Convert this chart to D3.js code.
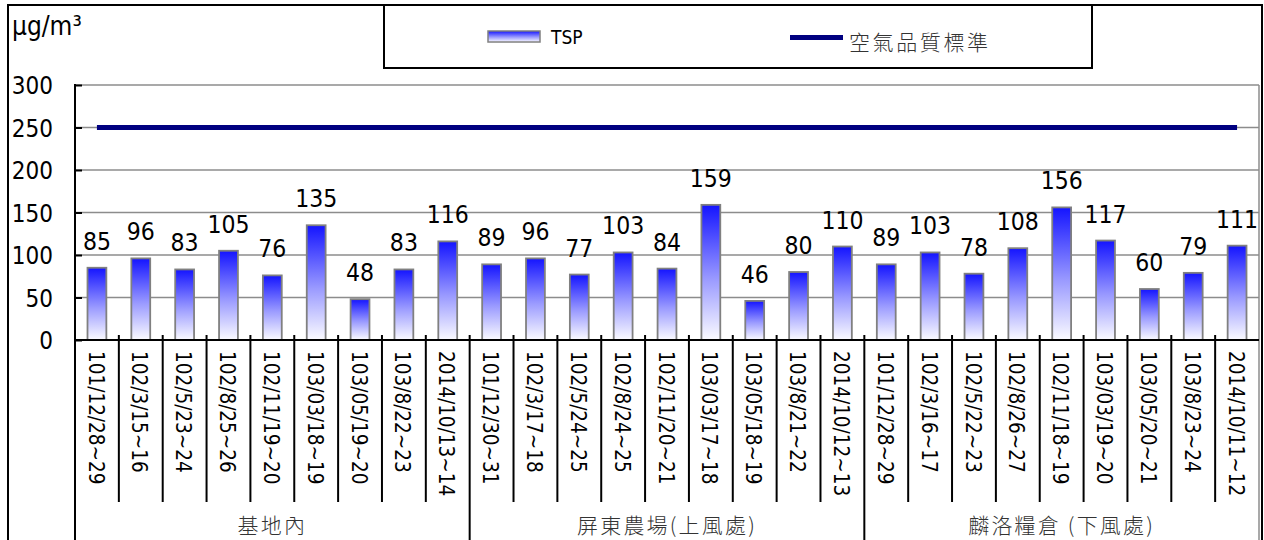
<!DOCTYPE html>
<html>
<head>
<meta charset="utf-8">
<script src="https://cdn.jsdelivr.net/npm/d3@7"></script>
<style>
  html, body { margin: 0; padding: 0; background: #fff; }
  svg { display: block; }
</style>
</head>
<body>
<svg id="chart" width="1264" height="540"></svg>
<script>
// ---- data ----
const groups = ["基地內", "屏東農場(上風處)", "麟洛糧倉 (下風處)"];
const dates1 = ["101/12/28~29", "102/3/15~16", "102/5/23~24", "102/8/25~26", "102/11/19~20", "103/03/18~19", "103/05/19~20", "103/8/22~23", "2014/10/13~14"];
const dates2 = ["101/12/30~31", "102/3/17~18", "102/5/24~25", "102/8/24~25", "102/11/20~21", "103/03/17~18", "103/05/18~19", "103/8/21~22", "2014/10/12~13"];
const dates3 = ["101/12/28~29", "102/3/16~17", "102/5/22~23", "102/8/26~27", "102/11/18~19", "103/03/19~20", "103/05/20~21", "103/8/23~24", "2014/10/11~12"];
const tsp1 = [85, 96, 83, 105, 76, 135, 48, 83, 116];
const tsp2 = [89, 96, 77, 103, 84, 159, 46, 80, 110];
const tsp3 = [89, 103, 78, 108, 156, 117, 60, 79, 111];
const standardValue = 250;
const yTicks = [0, 50, 100, 150, 200, 250, 300];
const unitLabel = "μg/m³";
const seriesNames = ["TSP", "空氣品質標準"];

// ---- build rows ----
const dateSets = [dates1, dates2, dates3];
const valueSets = [tsp1, tsp2, tsp3];
const rows = [];
dateSets.forEach((ds, g) => ds.forEach((d, i) => rows.push({ key: g + "|" + i, group: g, date: d, value: valueSets[g][i] })));

const svg = d3.select("#chart");
const numFont = "'DejaVu Sans Condensed', 'DejaVu Sans', sans-serif";
const cjkFont = "'Noto Sans CJK TC', 'Noto Sans CJK SC', sans-serif";

const L = 75, R = 1259, T = 85, B = 340;
const x = d3.scaleBand().domain(rows.map(r => r.key)).range([L, R]).padding(0);
const y = d3.scaleLinear().domain([0, 300]).range([B, T]);
const barW = x.bandwidth() * 0.43;

// gradient
const defs = svg.append("defs");
const grad = defs.append("linearGradient").attr("id", "barGrad").attr("x1", 0).attr("y1", 0).attr("x2", 0).attr("y2", 1);
grad.append("stop").attr("offset", "0%").attr("stop-color", "#1414ff");
grad.append("stop").attr("offset", "55%").attr("stop-color", "#9a9aff");
grad.append("stop").attr("offset", "100%").attr("stop-color", "#fbfbff");

// outer frame
svg.append("rect").attr("x", 8).attr("y", 5).attr("width", 1254).attr("height", 560)
  .attr("fill", "#fff").attr("stroke", "#000").attr("stroke-width", 2);

// legend box
svg.append("rect").attr("x", 384).attr("y", 5).attr("width", 708).attr("height", 63)
  .attr("fill", "none").attr("stroke", "#000").attr("stroke-width", 2);
svg.append("rect").attr("x", 488).attr("y", 31).attr("width", 52).attr("height", 11)
  .attr("fill", "url(#barGrad)").attr("stroke", "#808080").attr("stroke-width", 1.5);
svg.append("text").attr("x", 551).attr("y", 44).text(seriesNames[0])
  .attr("font-family", numFont).attr("font-size", 19).attr("fill", "#000");
svg.append("line").attr("x1", 790).attr("x2", 843).attr("y1", 37.5).attr("y2", 37.5)
  .attr("stroke", "#000080").attr("stroke-width", 5);
svg.append("text").attr("x", 849).attr("y", 50).text(seriesNames[1])
  .attr("font-family", cjkFont).attr("font-size", 21).attr("font-weight", 300)
  .attr("letter-spacing", 2.6).attr("fill", "#333");

// unit
svg.append("text").attr("x", 12).attr("y", 35).text(unitLabel)
  .attr("font-family", numFont).attr("font-size", 26).attr("fill", "#000");

// gridlines
svg.append("g").selectAll("line").data(yTicks.filter(t => t > 0)).join("line")
  .attr("x1", L).attr("x2", R).attr("y1", d => y(d)).attr("y2", d => y(d))
  .attr("stroke", "#8c8c8c").attr("stroke-width", 1.5);
// plot right border
svg.append("line").attr("x1", R).attr("x2", R).attr("y1", T).attr("y2", 560)
  .attr("stroke", "#8c8c8c").attr("stroke-width", 1.5);

// y axis
const yAxis = d3.axisRight(y).tickValues(yTicks).tickSize(7).tickFormat("");
const yg = svg.append("g").attr("transform", `translate(${L},0)`).call(yAxis);
yg.select(".domain").remove();
yg.selectAll(".tick line").attr("stroke", "#000").attr("stroke-width", 2);
svg.append("line").attr("x1", L).attr("x2", L).attr("y1", T - 1).attr("y2", 560)
  .attr("stroke", "#000").attr("stroke-width", 2);
svg.append("g").selectAll("text").data(yTicks).join("text")
  .attr("x", 53).attr("y", d => y(d) + 9).attr("text-anchor", "end").text(d => d)
  .attr("font-family", numFont).attr("font-size", 24).attr("fill", "#000");

// bars
svg.append("g").selectAll("rect").data(rows).join("rect")
  .attr("x", d => x(d.key) + (x.bandwidth() - barW) / 2)
  .attr("y", d => y(d.value))
  .attr("width", barW)
  .attr("height", d => y(0) - y(d.value))
  .attr("fill", "url(#barGrad)")
  .attr("stroke", "#808080").attr("stroke-width", 1.8);

// value labels
svg.append("g").selectAll("text").data(rows).join("text")
  .attr("x", d => x(d.key) + x.bandwidth() / 2)
  .attr("y", d => y(d.value) - 18)
  .attr("text-anchor", "middle").text(d => d.value)
  .attr("font-family", numFont).attr("font-size", 24.5).attr("fill", "#000");

// standard line
const first = rows[0].key, last = rows[rows.length - 1].key;
svg.append("line")
  .attr("x1", x(first) + x.bandwidth() / 2).attr("x2", x(last) + x.bandwidth() / 2)
  .attr("y1", y(standardValue)).attr("y2", y(standardValue))
  .attr("stroke", "#000080").attr("stroke-width", 5);

// x axis line
svg.append("line").attr("x1", L).attr("x2", R).attr("y1", B).attr("y2", B)
  .attr("stroke", "#000").attr("stroke-width", 2);

// category boundary ticks
const boundaries = rows.map((r, i) => i).filter(i => i > 0);
svg.append("g").selectAll("line").data(boundaries).join("line")
  .attr("x1", i => x(rows[i].key)).attr("x2", i => x(rows[i].key))
  .attr("y1", B - 5)
  .attr("y2", i => (i % 9 === 0 ? 560 : 502))
  .attr("stroke", "#000").attr("stroke-width", 2);

// category labels
svg.append("g").selectAll("text").data(rows).join("text")
  .attr("transform", d => `translate(${x(d.key) + x.bandwidth() / 2 - 1},351) rotate(90)`)
  .attr("dy", "0.36em")
  .text(d => d.date)
  .attr("font-family", numFont).attr("font-size", 20.5).attr("fill", "#000");

// group labels
svg.append("g").selectAll("text").data(groups).join("text")
  .attr("x", (d, g) => {
    const a = x(rows[g * 9].key), b = x(rows[g * 9 + 8].key) + x.bandwidth();
    return (a + b) / 2;
  })
  .attr("y", 533).attr("text-anchor", "middle").text(d => d)
  .attr("font-family", cjkFont).attr("font-size", 21).attr("font-weight", 300)
  .attr("letter-spacing", 2.2).attr("fill", "#333");
</script>
</body>
</html>
